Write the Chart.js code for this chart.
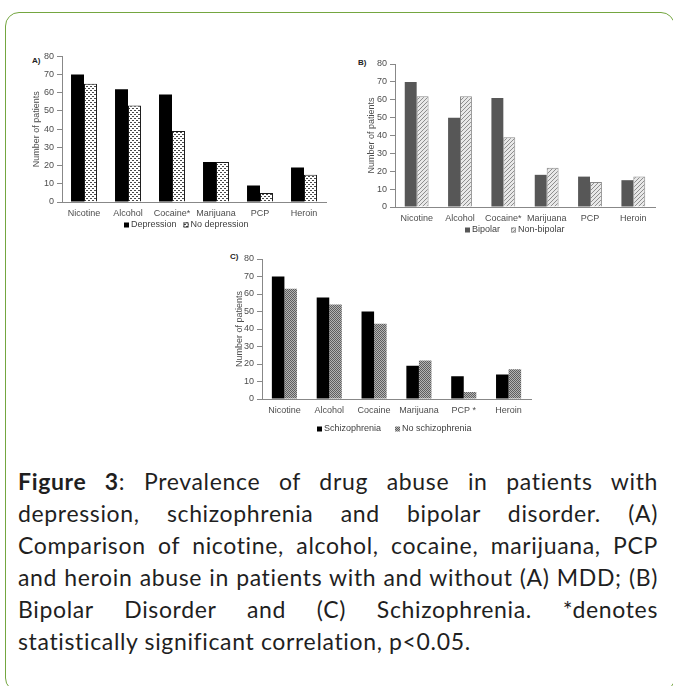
<!DOCTYPE html>
<html>
<head>
<meta charset="utf-8">
<script src="https://cdn.jsdelivr.net/npm/chart.js@4.4.1/dist/chart.umd.min.js"></script>
<style>
  html, body { margin: 0; padding: 0; background: #fff; }
  body { width: 673px; height: 686px; position: relative; overflow: hidden; font-family: "Liberation Sans", Arial, sans-serif; }
  .frame { position: absolute; left: 5px; top: 12px; width: 670px; height: 680px; border: 1.5px solid #74a640; border-radius: 14px; box-sizing: border-box; }
  .panel { position: absolute; }
  .tag { position: absolute; font: bold 8px "Liberation Sans", Arial, sans-serif; color: #222; line-height: 10px; }
  .caption { position: absolute; left: 18px; top: 465px; width: 640px; font-family: Lato, "Open Sans", sans-serif; font-size: 23px; letter-spacing: 0.7px; line-height: 32px; color: #1f1f1f; }
  .caption .ln { text-align: justify; text-align-last: justify; height: 32px; overflow: hidden; }
  .caption .ln.last { text-align: left; text-align-last: left; }
  .caption.measure .ln { text-align: left; text-align-last: left; }
  .caption.measure .ln span { white-space: nowrap; }
</style>
</head>
<body>
<div class="frame"></div>

<div class="tag" style="left:32px;top:56px;">A)</div>
<div class="tag" style="left:358px;top:58px;">B)</div>
<div class="tag" style="left:230px;top:252px;">C)</div>

<canvas id="chartA" class="panel" style="left:20px;top:48px;" width="315" height="192"></canvas>
<canvas id="chartB" class="panel" style="left:350px;top:55px;" width="315" height="190"></canvas>
<canvas id="chartC" class="panel" style="left:215px;top:250px;" width="330" height="195"></canvas>

<div class="caption" id="caption">
  <div class="ln"><span><b>Figure 3</b>: Prevalence of drug abuse in patients with</span></div>
  <div class="ln"><span>depression, schizophrenia and bipolar disorder. (A)</span></div>
  <div class="ln"><span>Comparison of nicotine, alcohol, cocaine, marijuana, PCP</span></div>
  <div class="ln"><span>and heroin abuse in patients with and without (A) MDD; (B)</span></div>
  <div class="ln"><span>Bipolar Disorder and (C) Schizophrenia. *denotes</span></div>
  <div class="ln last"><span>statistically significant correlation, p&lt;0.05.</span></div>
</div>

<script>
// ---- data ----
const drugsA = ['Nicotine', 'Alcohol', 'Cocaine*', 'Marijuana', 'PCP', 'Heroin'];
const drugsB = ['Nicotine', 'Alcohol', 'Cocaine*', 'Marijuana', 'PCP', 'Heroin'];
const drugsC = ['Nicotine', 'Alcohol', 'Cocaine', 'Marijuana', 'PCP *', 'Heroin'];

const depression      = [70, 62, 59, 22, 9, 19];
const noDepression    = [65, 53, 39, 22, 5, 15];
const bipolar         = [70, 50, 61, 18, 17, 15];
const nonBipolar      = [62, 62, 39, 22, 14, 17];
const schizophrenia   = [70, 58, 50, 19, 13, 14];
const noSchizophrenia = [63, 54, 43, 22, 4, 17];

const yMin = 0, yMax = 80, yStep = 10;
const yTitle = 'Number of patients';

// keep every caption line on one row: tighten spacing if a line runs too long
(function fitCaption() {
  const cap = document.getElementById('caption');
  cap.classList.add('measure');
  const widest = () => Math.max(...[...cap.querySelectorAll('.ln span')].map(s => s.getBoundingClientRect().width));
  let ls = 0.7;
  while (widest() > 634 && ls > -1) { ls -= 0.05; cap.style.letterSpacing = ls.toFixed(2) + 'px'; }
  cap.classList.remove('measure');
})();

// ---- fill patterns ----
function makePattern(w, h, paint) {
  const c = document.createElement('canvas');
  c.width = w; c.height = h;
  const g = c.getContext('2d');
  paint(g);
  return g.createPattern(c, 'repeat');
}
// white with small staggered dashes
const dashFill = makePattern(4, 4, g => {
  g.fillStyle = '#ffffff'; g.fillRect(0, 0, 4, 4);
  g.fillStyle = '#4a4a4a';
  g.fillRect(0, 0, 2, 1);
  g.fillRect(2, 2, 2, 1);
});
// light grey with diagonal hatching
const hatchFill = makePattern(4, 4, g => {
  g.fillStyle = '#e8e8e8'; g.fillRect(0, 0, 4, 4);
  g.fillStyle = '#8e8e8e';
  for (let i = 0; i < 4; i++) g.fillRect(i, 3 - i, 1, 1);
});
// mid grey checker
const checkFill = makePattern(2, 2, g => {
  g.fillStyle = '#5e5e5e'; g.fillRect(0, 0, 2, 2);
  g.fillStyle = '#b4b4b4';
  g.fillRect(0, 0, 1, 1);
  g.fillRect(1, 1, 1, 1);
});

const FONT = '"Liberation Sans", Arial, sans-serif';
const TXT = '#4d4d4d';
const AXIS = '#888888';

// series key drawn under each panel
const keyRow = {
  id: 'keyRow',
  afterDraw(chart, args, o) {
    const ctx = chart.ctx;
    ctx.save();
    ctx.font = '9px ' + FONT;
    ctx.textBaseline = 'middle';
    ctx.textAlign = 'left';
    let x = o.x;
    chart.data.datasets.forEach(ds => {
      ctx.fillStyle = ds.backgroundColor;
      ctx.fillRect(x, o.y - 2.5, 5, 5);
      if (ds.borderWidth) {
        ctx.strokeStyle = ds.borderColor;
        ctx.lineWidth = 0.8;
        ctx.strokeRect(x + 0.4, o.y - 2.1, 4.2, 4.2);
      }
      ctx.fillStyle = '#404040';
      ctx.fillText(ds.label, x + 7, o.y);
      x += 7 + ctx.measureText(ds.label).width + o.gap;
    });
    ctx.restore();
  }
};

function panel(id, labels, sets, cfg) {
  new Chart(document.getElementById(id), {
    type: 'bar',
    data: { labels: labels, datasets: sets },
    plugins: [keyRow],
    options: {
      responsive: false,
      animation: false,
      events: [],
      layout: { padding: { left: 0, top: cfg.top, right: cfg.right, bottom: cfg.bottom } },
      datasets: { bar: { categoryPercentage: cfg.cat, barPercentage: 1.0 } },
      plugins: {
        legend: { display: false },
        tooltip: { enabled: false },
        keyRow: { x: cfg.keyX, y: cfg.keyY, gap: cfg.keyGap }
      },
      scales: {
        x: {
          grid: { display: false, drawTicks: false },
          border: { display: true, color: AXIS, width: 1 },
          ticks: { font: { size: 9, family: FONT }, color: TXT, padding: 6, maxRotation: 0, autoSkip: false },
          afterFit(s) { s.height = 30; }
        },
        y: {
          min: yMin, max: yMax,
          ticks: { stepSize: yStep, font: { size: 9, family: FONT }, color: TXT, padding: 3 },
          grid: { drawOnChartArea: false, drawTicks: true, tickLength: 5, color: AXIS },
          border: { display: true, color: AXIS, width: 1 },
          title: { display: true, text: yTitle, font: { size: 9, family: FONT }, color: TXT, padding: { top: cfg.titlePad, bottom: 0 } },
          afterFit(s) { s.width = cfg.yW; }
        }
      }
    }
  });
}

panel('chartA', drugsA, [
  { label: 'Depression', data: depression, backgroundColor: '#000000', borderWidth: 0 },
  { label: 'No depression', data: noDepression, backgroundColor: dashFill, borderColor: '#1a1a1a', borderWidth: 1 }
], { top: 8, right: 9, bottom: 8, yW: 42, titlePad: 11.6, cat: 0.59, keyX: 104, keyY: 177, keyGap: 7 });

panel('chartB', drugsB, [
  { label: 'Bipolar', data: bipolar, backgroundColor: '#575757', borderWidth: 0 },
  { label: 'Non-bipolar', data: nonBipolar, backgroundColor: hatchFill, borderColor: '#8a8a8a', borderWidth: 1 }
], { top: 9, right: 10, bottom: 8, yW: 45, titlePad: 16.6, cat: 0.55, keyX: 115, keyY: 175, keyGap: 11 });

panel('chartC', drugsC, [
  { label: 'Schizophrenia', data: schizophrenia, backgroundColor: '#000000', borderWidth: 0 },
  { label: 'No schizophrenia', data: noSchizophrenia, backgroundColor: checkFill, borderWidth: 0 }
], { top: 9, right: 14, bottom: 16, yW: 47, titlePad: 19.6, cat: 0.56, keyX: 102, keyY: 179, keyGap: 14 });
</script>
</body>
</html>
